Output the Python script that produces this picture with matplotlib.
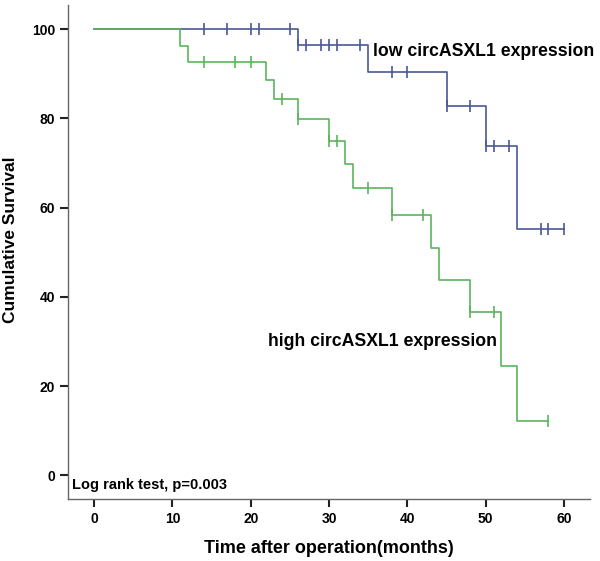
import numpy as np
import matplotlib
matplotlib.use("Agg")
import matplotlib.pyplot as plt

plt.rcParams['font.family'] = ['Liberation Sans Narrow', 'Liberation Sans', 'DejaVu Sans']

# low circASXL1 group
low_event_times = [26, 35, 45, 50, 54]
low_surv = [100, 96.5, 90.5, 82.8, 73.8, 55.2]
low_censor_times = [14, 17, 20, 21, 25, 26, 27, 29, 30, 31, 34, 38, 40,
                    45, 48, 50, 51, 53, 57, 58, 60]
low_end = 60

# high circASXL1 group
high_event_times = [11, 12, 22, 23, 26, 30, 32, 33, 38, 43, 44, 48, 52, 54]
high_surv = [100, 96.2, 92.6, 88.5, 84.3, 79.9, 75.0, 69.7, 64.4, 58.4,
             51.0, 43.8, 36.5, 24.4, 12.2]
high_censor_times = [14, 18, 20, 24, 26, 30, 31, 35, 38, 42, 48, 51, 58]
high_end = 58

x_ticks = [0, 10, 20, 30, 40, 50, 60]
y_ticks = [0, 20, 40, 60, 80, 100]

blue = '#4a5897'
green = '#5cb45c'


def km_step(events, surv, end):
    xs = [0] + list(events) + [end]
    ys = list(surv) + [surv[-1]]
    return xs, ys


def level_at(t, events, surv):
    k = np.searchsorted(events, t, side='right')
    return surv[k]


fig = plt.figure(figsize=(6, 5.61), dpi=100)
ax = fig.add_axes([0.1138, 0.1105, 0.8695, 0.8805])

for ev, sv, cens, end, col in [(low_event_times, low_surv, low_censor_times, low_end, blue),
                               (high_event_times, high_surv, high_censor_times, high_end, green)]:
    xs, ys = km_step(ev, sv, end)
    ax.step(xs, ys, where='post', color=col, lw=1.2)
    cy = [level_at(t, ev, sv) for t in cens]
    ax.plot(cens, cy, ls='none', marker='|', ms=8, mew=1.2, color=col)

ax.set_xlim(-3.3, 63.3)
ax.set_ylim(-5.3, 105.4)
ax.set_xticks(x_ticks)
ax.set_yticks(y_ticks)

for s in ['top', 'right']:
    ax.spines[s].set_visible(False)
for s in ['left', 'bottom']:
    ax.spines[s].set_color('#666666')
    ax.spines[s].set_linewidth(1.0)
ax.tick_params(axis='both', direction='out', length=6, width=1.5, color='#222222',
               labelsize=10)
for lab in ax.get_xticklabels() + ax.get_yticklabels():
    lab.set_fontweight('bold')

ax.set_xlabel('Time after operation(months)', fontsize=13, fontweight='bold',
              labelpad=10)
ax.set_ylabel('Cumulative Survival', fontsize=12.5, fontweight='bold',
              family=['Liberation Sans', 'DejaVu Sans'])
ax.yaxis.set_label_coords(-0.096, 0.525)

ax.text(35.6, 95.1, 'low circASXL1 expression', fontsize=12.7, fontweight='bold',
        family=['Liberation Sans', 'DejaVu Sans'], va='center', ha='left')
ax.text(22.2, 30.0, 'high circASXL1 expression', fontsize=12.7, fontweight='bold',
        family=['Liberation Sans', 'DejaVu Sans'], va='center', ha='left')
ax.text(-2.8, -2.2, 'Log rank test, p=0.003', fontsize=10.5, fontweight='bold',
        va='center', ha='left')

fig.savefig('out.png', dpi=100)
